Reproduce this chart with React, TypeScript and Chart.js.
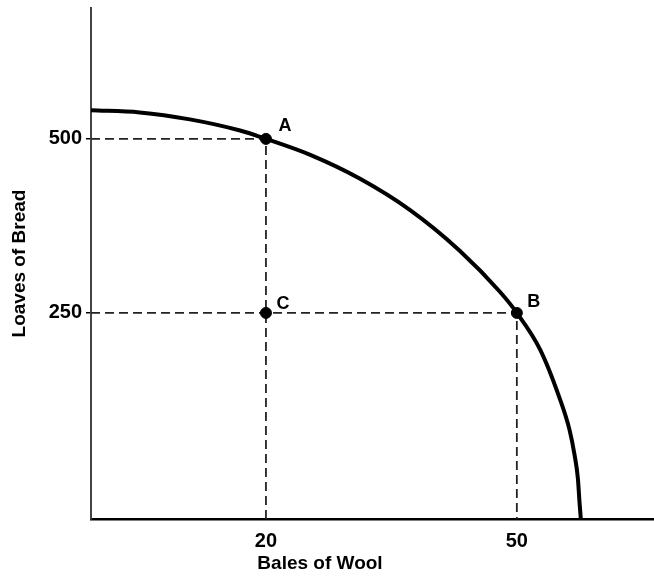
import React, { useEffect, useRef } from "react";
import { Chart, registerables } from "chart.js";

Chart.register(...registerables);

// ---- data ----
const X_TICKS = [20, 50];
const Y_TICKS = [250, 500];
const X_MIN = -0.92;
const X_MAX = 66.4;
const Y_MIN = -46;
const Y_MAX = 688;

const CURVE_X = [-0.92, 4.9, 10.9, 16.9, 20, 25.3, 31.2, 37.2, 43.2, 48.0, 50, 52.8, 55.1, 56.3, 56.9, 57.3, 57.5, 57.65];
const CURVE_Y = [541, 538, 528, 512, 500, 477, 443, 398, 339, 280, 250, 197, 128, 82, 46, 12, -23, -46];

const POINT_NAMES = ["A", "B", "C"];
const POINT_X = [20, 50, 20];
const POINT_Y = [500, 250, 250];

const X_TITLE = "Bales of Wool";
const Y_TITLE = "Loaves of Bread";

// ---- styles ----
const FONT_FAMILY = "'Liberation Sans', Arial, sans-serif";
const LABEL_OFFSETS: Record<string, [number, number]> = {
  A: [19, -13],
  B: [17, -11],
  C: [17, -9],
};
const X_TITLE_CENTER = 320;
const X_TITLE_Y = 564;

const annotationPlugin = {
  id: "pointLabels",
  afterDatasetsDraw(chart: any) {
    const { ctx, scales } = chart;
    ctx.save();
    ctx.fillStyle = "#000";
    ctx.font = `bold 18px ${FONT_FAMILY}`;
    ctx.textAlign = "center";
    ctx.textBaseline = "middle";
    POINT_NAMES.forEach((name, i) => {
      const px = scales.x.getPixelForValue(POINT_X[i]);
      const py = scales.y.getPixelForValue(POINT_Y[i]);
      const [dx, dy] = LABEL_OFFSETS[name] || [17, -11];
      ctx.fillText(name, px + dx, py + dy);
    });
    ctx.font = `bold 19px ${FONT_FAMILY}`;
    ctx.fillText(X_TITLE, X_TITLE_CENTER, X_TITLE_Y);
    ctx.restore();
  },
};

export default function App() {
  const ref = useRef<HTMLCanvasElement | null>(null);

  useEffect(() => {
    if (!ref.current) return;

    const curve = CURVE_X.map((x, i) => ({ x, y: CURVE_Y[i] }));
    const points = POINT_X.map((x, i) => ({ x, y: POINT_Y[i] }));
    const guideA = [
      { x: X_MIN, y: POINT_Y[0] },
      { x: POINT_X[0], y: POINT_Y[0] },
      { x: POINT_X[0], y: Y_MIN },
    ];
    const guideB = [
      { x: X_MIN, y: POINT_Y[1] },
      { x: POINT_X[1], y: POINT_Y[1] },
      { x: POINT_X[1], y: Y_MIN },
    ];

    const tickFont = { family: FONT_FAMILY, size: 20, weight: "bold" as const };
    const titleFont = { family: FONT_FAMILY, size: 19, weight: "bold" as const };

    const chart = new Chart(ref.current, {
      type: "scatter",
      data: {
        datasets: [
          {
            type: "scatter",
            data: points,
            pointRadius: 5.5,
            pointBackgroundColor: "#000",
            pointBorderColor: "#000",
            order: 0,
          },
          {
            type: "line",
            data: curve,
            borderColor: "#000",
            borderWidth: 4,
            pointRadius: 0,
            cubicInterpolationMode: "monotone",
            fill: false,
            order: 1,
          },
          {
            type: "line",
            data: guideA,
            borderColor: "#222",
            borderWidth: 1.8,
            borderDash: [9, 5],
            pointRadius: 0,
            tension: 0,
            fill: false,
            order: 2,
          },
          {
            type: "line",
            data: guideB,
            borderColor: "#222",
            borderWidth: 1.8,
            borderDash: [9, 5],
            pointRadius: 0,
            tension: 0,
            fill: false,
            order: 2,
          },
        ],
      } as any,
      options: {
        responsive: false,
        animation: false,
        layout: { autoPadding: false, padding: { top: 8, right: 0, left: 0, bottom: 0 } },
        plugins: {
          legend: { display: false },
          tooltip: { enabled: false },
        },
        scales: {
          x: {
            type: "linear",
            min: X_MIN,
            max: X_MAX,
            afterBuildTicks: (s: any) => {
              s.ticks = X_TICKS.map((v) => ({ value: v }));
            },
            afterFit: (s: any) => {
              s.height = 61;
              s.paddingLeft = 0;
              s.paddingRight = 0;
            },
            grid: { display: true, drawOnChartArea: false, drawTicks: false },
            border: { display: true, color: "#000", width: 2.5 },
            ticks: { font: tickFont, color: "#000", padding: 10, maxRotation: 0 },
            title: { display: false },
          },
          y: {
            type: "linear",
            min: Y_MIN,
            max: Y_MAX,
            afterBuildTicks: (s: any) => {
              s.ticks = Y_TICKS.map((v) => ({ value: v }));
            },
            afterFit: (s: any) => {
              s.width = 91;
              s.paddingTop = 0;
              s.paddingBottom = 0;
            },
            grid: {
              display: true,
              drawOnChartArea: false,
              drawTicks: true,
              tickLength: 5,
              color: "#000",
              lineWidth: 1.5,
            },
            border: { display: true, color: "#444", width: 2 },
            ticks: { font: tickFont, color: "#000", padding: 4 },
            title: {
              display: true,
              text: Y_TITLE,
              font: titleFont,
              color: "#000",
              padding: { top: 8, bottom: 0 },
            },
          },
        },
      } as any,
      plugins: [annotationPlugin],
    });

    return () => chart.destroy();
  }, []);

  return (
    <div style={{ position: "fixed", left: 0, top: 0, width: 654, height: 580, background: "#fff" }}>
      <canvas ref={ref} width={654} height={580} />
    </div>
  );
}
